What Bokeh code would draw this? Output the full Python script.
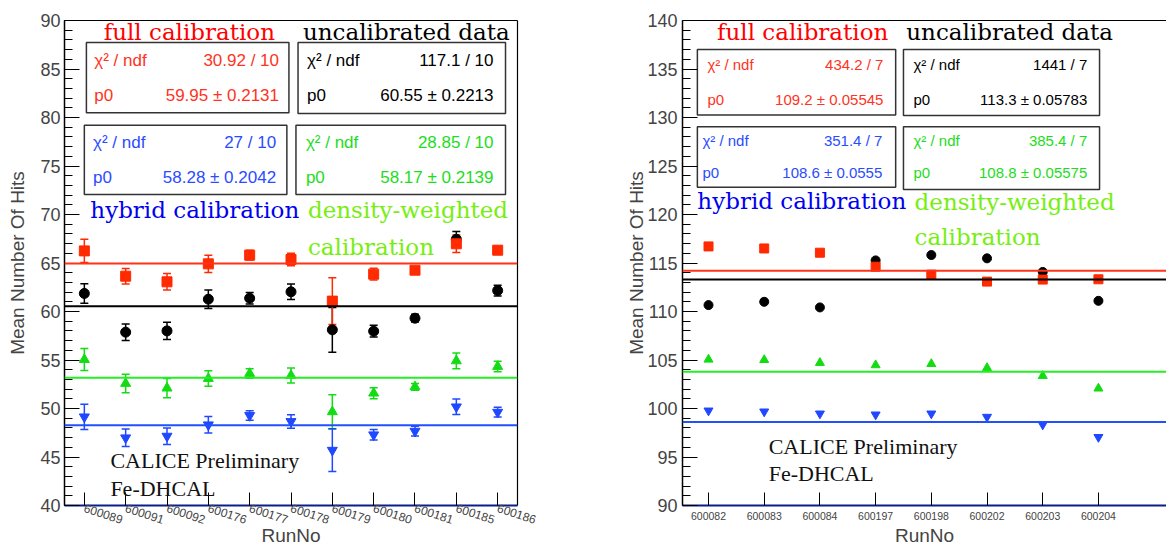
from bokeh.plotting import figure
from bokeh.models import (ColumnDataSource, Whisker, TeeHead, FixedTicker, LinearAxis,
                          Range1d, BoxAnnotation, Label, Span)
from bokeh.layouts import row
from bokeh.embed import file_html
from bokeh.resources import INLINE

# ---------------- data: left panel ----------------
runs_left = ["600089", "600091", "600092", "600176", "600177", "600178",
             "600179", "600180", "600181", "600185", "600186"]
full_left = [66.25, 63.64, 63.06, 64.91, 65.81, 65.36, 61.07, 63.85, 64.26, 66.98, 66.32]
full_left_err = [1.2, 0.8, 0.85, 0.9, 0.5, 0.65, 2.4, 0.6, 0.35, 0.9, 0.4]
uncal_left = [61.86, 57.87, 58.0, 61.27, 61.37, 62.03, 58.11, 57.97, 59.31, 67.45, 62.16]
uncal_left_err = [1.0, 0.85, 0.88, 0.95, 0.6, 0.8, 2.3, 0.6, 0.4, 0.8, 0.55]
dens_left = [55.05, 52.58, 52.1, 53.09, 53.61, 53.4, 49.66, 51.58, 52.23, 54.91, 54.33]
dens_left_err = [1.13, 0.95, 1.0, 0.8, 0.5, 0.78, 1.77, 0.57, 0.35, 0.8, 0.55]
hyb_left = [49.14, 46.98, 47.15, 48.32, 49.28, 48.66, 45.7, 47.29, 47.66, 50.17, 49.62]
hyb_left_err = [1.3, 0.9, 0.85, 0.85, 0.5, 0.7, 2.2, 0.55, 0.5, 0.8, 0.5]
# fitted constants as drawn (full, uncalibrated, density-weighted, hybrid)
fit_left = [64.95, 60.55, 53.17, 48.28]
chi2_left = ["30.92 / 10", "117.1 / 10", "28.85 / 10", "27 / 10"]
p0_left = ["59.95 \u00b1 0.2131", "60.55 \u00b1 0.2213", "58.17 \u00b1 0.2139", "58.28 \u00b1 0.2042"]
yticks_left = [40, 45, 50, 55, 60, 65, 70, 75, 80, 85, 90]

# ---------------- data: right panel ----------------
runs_right = ["600082", "600083", "600084", "600197", "600198", "600202", "600203", "600204"]
full_right = [116.71, 116.5, 116.06, 114.62, 113.8, 113.08, 113.29, 113.32]
uncal_right = [110.66, 111.0, 110.42, 115.27, 115.82, 115.48, 114.08, 111.1]
dens_right = [105.05, 105.01, 104.71, 104.47, 104.6, 104.19, 103.37, 102.07]
hyb_right = [99.78, 99.68, 99.47, 99.37, 99.47, 99.13, 98.34, 97.05]
fit_right = [114.2, 113.3, 103.8, 98.6]
chi2_right = ["434.2 / 7", "1441 / 7", "385.4 / 7", "351.4 / 7"]
p0_right = ["109.2 \u00b1 0.05545", "113.3 \u00b1 0.05783", "108.8 \u00b1 0.05575", "108.6 \u00b1 0.0555"]
yticks_right = [90, 95, 100, 105, 110, 115, 120, 125, 130, 135, 140]

series_names = ["full calibration", "uncalibrated data", "density-weighted", "hybrid calibration"]

# ---------------- styles ----------------
MARK = ["#ff2a00", "#000000", "#14dc14", "#1f48ff"]
LINE = ["#ff3318", "#000000", "#26ee26", "#2050ff"]
BOXTXT = ["#ff3322", "#000000", "#1ddd1d", "#2a4cff"]
TITLE = ["#ff0000", "#000000", "#77ee11", "#0000f0"]
MARKERS = ["square", "circle", "triangle", "inverted_triangle"]
DRAW_ORDER = [1, 2, 3, 0]
SANS = "Liberation Sans"
SERIF_T = "DejaVu Serif"
SERIF_C = "Liberation Serif"
NAVY = "#0b1f8c"
HEIGHT = 549


def make_panel(runs, values, errs, fits, chi2, p0, yticks, cfg):
    n = len(runs)
    x = list(range(n))
    p = figure(width=cfg["width"], height=HEIGHT, output_backend="svg", toolbar_location=None,
               x_range=Range1d(*cfg["xr"]), y_range=Range1d(yticks[0], yticks[-1]),
               min_border_left=cfg["mbl"], min_border_right=cfg["mbr"],
               min_border_top=cfg["mbt"], min_border_bottom=44)
    p.xgrid.visible = False
    p.ygrid.visible = False
    p.outline_line_color = None
    p.background_fill_color = "white"
    p.border_fill_color = "white"

    # y axis
    yax = p.yaxis[0]
    yax.ticker = FixedTicker(ticks=yticks,
                             minor_ticks=list(range(yticks[0], yticks[-1] + 1)))
    yax.major_tick_in = 15
    yax.major_tick_out = 0
    yax.minor_tick_in = 8
    yax.minor_tick_out = 0
    yax.major_label_text_font = SANS
    yax.major_label_text_font_size = "18px"
    yax.major_label_standoff = cfg["ystand"]
    yax.axis_label = "Mean Number Of Hits"
    yax.axis_label_text_font = SANS
    yax.axis_label_text_font_size = "19px"
    yax.axis_label_text_font_style = "normal"
    yax.axis_label_standoff = cfg["ylabstand"]
    yax.axis_line_width = 1.5

    # x axis
    xax = p.xaxis[0]
    xax.ticker = FixedTicker(ticks=x)
    xax.major_label_overrides = {i: r for i, r in enumerate(runs)}
    xax.major_label_orientation = cfg["xorient"]
    xax.major_label_text_font = SANS
    xax.major_label_text_font_size = cfg["xfont"]
    xax.major_label_standoff = cfg["xstand"]
    xax.major_tick_in = 13
    xax.major_tick_out = 0
    xax.minor_tick_in = 0
    xax.minor_tick_out = 0
    xax.axis_line_color = NAVY
    xax.axis_line_width = 2
    xax.axis_label = "RunNo"
    xax.axis_label_text_font = SANS
    xax.axis_label_text_font_size = "19px"
    xax.axis_label_text_font_style = "normal"
    xax.axis_label_standoff = cfg["xlabstand"]

    # frame lines (top, and right if visible)
    sides = ["above"] + (["right"] if cfg["right_line"] else [])
    for side in sides:
        ax = LinearAxis(ticker=FixedTicker(ticks=[]), major_tick_in=0, major_tick_out=0,
                        minor_tick_in=0, minor_tick_out=0, major_label_standoff=0,
                        major_label_text_font_size="0px", axis_line_color="black",
                        axis_line_width=1.2)
        p.add_layout(ax, side)

    # fit lines
    for k in range(4):
        p.add_layout(Span(location=fits[k], dimension="width", line_color=LINE[k],
                          line_width=2))

    # data
    for k in DRAW_ORDER:
        src_data = dict(x=x, y=values[k])
        if errs is not None:
            src_data["lo"] = [v - e for v, e in zip(values[k], errs[k])]
            src_data["hi"] = [v + e for v, e in zip(values[k], errs[k])]
        src = ColumnDataSource(src_data)
        if errs is not None:
            w = Whisker(base="x", lower="lo", upper="hi", source=src,
                        line_color=MARK[k], line_width=1.5,
                        upper_head=TeeHead(size=8, line_color=MARK[k], line_width=1.5),
                        lower_head=TeeHead(size=8, line_color=MARK[k], line_width=1.5))
            p.add_layout(w)
        p.scatter("x", "y", source=src, marker=MARKERS[k], size=cfg["msize"][k],
                  fill_color=MARK[k], line_color=MARK[k])

    # stat boxes
    for k in range(4):
        l, r, t, b = cfg["boxes"][k]
        p.add_layout(BoxAnnotation(left=l, right=r, top=t, bottom=b, fill_color="white",
                                   fill_alpha=1.0, line_color="#333333", line_alpha=1.0,
                                   line_width=1.5, level="underlay"))
        tl, tr = cfg["textx"][k]
        y1, y2 = cfg["rows"][k]
        for txt, yy, xx, al in [("\u03c7\u00b2 / ndf", y1, tl, "left"),
                                 (chi2[k], y1, tr, "right"),
                                 ("p0", y2, tl, "left"),
                                 (p0[k], y2, tr, "right")]:
            p.add_layout(Label(x=xx, y=yy, text=txt, text_color=BOXTXT[k],
                               text_font=SANS, text_font_size=cfg["boxfont"],
                               text_align=al, text_baseline="middle"))

    # series titles
    for (txt, xx, yy, al, k) in cfg["titles"]:
        p.add_layout(Label(x=xx, y=yy, text=txt, text_color=TITLE[k], text_font=SERIF_T,
                           text_font_size="23px", text_align=al, text_baseline="middle"))

    # CALICE label
    cx, cy1, cy2 = cfg["calice"]
    for txt, yy in [("CALICE Preliminary", cy1), ("Fe-DHCAL", cy2)]:
        p.add_layout(Label(x=cx, y=yy, text=txt, text_color="#111111", text_font=SERIF_C,
                           text_font_size="22px", text_align="left",
                           text_baseline="middle"))
    return p


cfg_left = dict(
    width=600, xr=(-0.48, 10.48), mbl=64, mbr=83, mbt=20,
    ystand=4, ylabstand=9, xorient=-0.31, xfont="12px", xstand=2, xlabstand=-6,
    right_line=True, msize=[10, 10, 10, 10], boxfont="17px",
    boxes=[(0.05, 4.95, 87.73, 80.5), (5.17, 10.19, 87.73, 80.4),
           (5.12, 10.19, 79.2, 72.06), (0.0, 4.9, 79.2, 72.06)],
    textx=[(0.24, 4.71), (5.39, 9.9), (5.36, 9.9), (0.21, 4.64)],
    rows=[(85.9, 82.3), (85.9, 82.3), (77.4, 73.8), (77.4, 73.8)],
    titles=[(series_names[0], 2.54, 88.82, "center", 0),
            (series_names[1], 5.29, 88.77, "left", 1),
            (series_names[3], 0.145, 70.42, "left", 3),
            (series_names[2], 5.41, 70.42, "left", 2),
            ("calibration", 5.41, 66.62, "left", 2)],
    calice=(0.63, 44.66, 41.76),
)

cfg_right = dict(
    width=566, xr=(-0.467, 8.222), mbl=82, mbr=0, mbt=17,
    ystand=5, ylabstand=-3, xorient="horizontal", xfont="10.5px", xstand=6, xlabstand=2,
    right_line=False, msize=[9, 9, 9, 9], boxfont="15px",
    boxes=[(-0.2, 3.36, 137.0, 130.27), (3.5, 7.02, 137.0, 130.2),
           (3.5, 7.02, 129.04, 122.58), (-0.2, 3.36, 129.04, 122.82)],
    textx=[(-0.02, 3.14), (3.68, 6.8), (3.68, 6.8), (-0.11, 3.12)],
    rows=[(135.45, 131.87), (135.45, 131.87), (127.6, 124.35), (127.6, 124.35)],
    titles=[(series_names[0], 1.69, 138.77, "center", 0),
            (series_names[1], 3.55, 138.8, "left", 1),
            (series_names[3], -0.2, 121.38, "left", 3),
            (series_names[2], 3.7, 121.28, "left", 2),
            ("calibration", 3.7, 117.72, "left", 2)],
    calice=(1.08, 96.12, 93.26),
)

left = make_panel(runs_left,
                  [full_left, uncal_left, dens_left, hyb_left],
                  [full_left_err, uncal_left_err, dens_left_err, hyb_left_err],
                  fit_left, chi2_left, p0_left, yticks_left, cfg_left)
right = make_panel(runs_right,
                   [full_right, uncal_right, dens_right, hyb_right],
                   None, fit_right, chi2_right, p0_right, yticks_right, cfg_right)

layout = row(left, right)
open("out.html", "w").write(file_html(layout, INLINE))
